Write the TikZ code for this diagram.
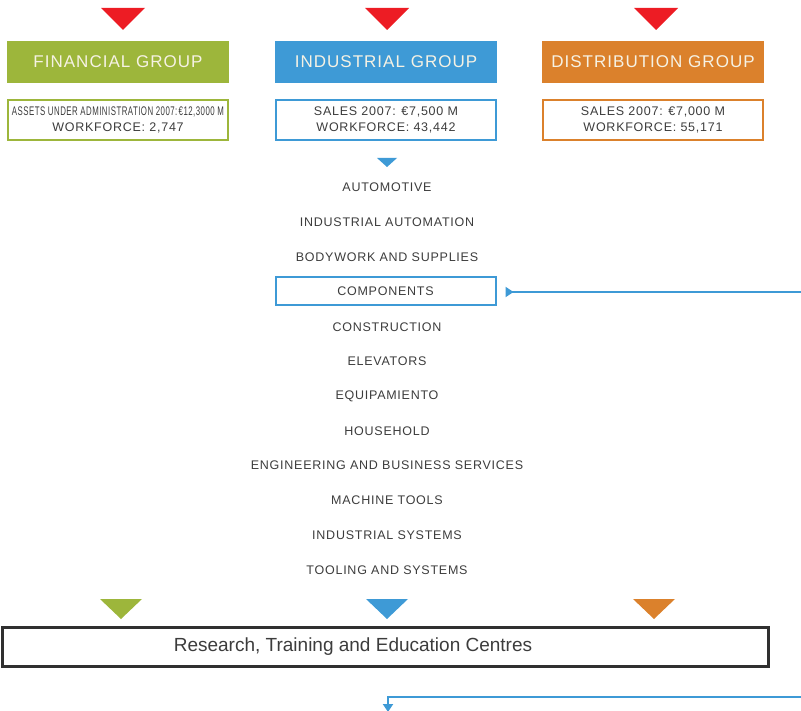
\documentclass[tikz,border=0pt]{standalone}
\usepackage{fontspec}
\usepackage{graphicx}
\setmainfont{Liberation Sans}
\newfontfamily\headfont[LetterSpace=6]{Liberation Sans}
\newfontfamily\listfont[LetterSpace=6]{Liberation Sans}
\usetikzlibrary{arrows.meta}

\definecolor{markred}{HTML}{ED1C24}
\definecolor{fingreen}{HTML}{9DB63B}
\definecolor{indblue}{HTML}{3E9AD6}
\definecolor{distorange}{HTML}{DB812C}
\definecolor{txtgray}{HTML}{3C3C3C}
\definecolor{headtxt}{HTML}{F6F2E4}

% triangle marker: centre x, top y, half width, height, colour
\newcommand{\marktri}[5]{\fill[#5] (#1-#3,#2) -- (#1+#3,#2) -- (#1,#2+#4) -- cycle;}

\begin{document}
\begin{tikzpicture}[x=1pt, y=-1pt,
    header/.style={rectangle, minimum width=222pt, minimum height=42pt, inner sep=0pt,
        text=headtxt, font=\headfont\fontsize{17}{20}\selectfont},
    infobox/.style={rectangle, draw=#1, line width=2pt, minimum width=220pt, minimum height=40pt,
        inner sep=0pt, align=center, text=txtgray, font=\listfont\fontsize{12.5}{16}\selectfont},
    item/.style={text=txtgray, inner sep=0pt, font=\listfont\fontsize{12.5}{14}\selectfont},
    link/.style={indblue, line width=2pt}]

    \useasboundingbox (0,0) rectangle (801,711);

    % Draw the markers above the groups
    \marktri{123}{8}{22}{22}{markred}
    \marktri{387}{8}{22}{22}{markred}
    \marktri{656}{8}{22}{22}{markred}

    % Draw the group headers
    \node[header, fill=fingreen] (fin) at (118,62) {FINANCIAL GROUP};
    \node[header, fill=indblue] (ind) at (386,62) {INDUSTRIAL GROUP};
    \node[header, fill=distorange] (dist) at (653,62) {DISTRIBUTION GROUP};

    % Draw the figures boxes
    \node[infobox=fingreen] (finfig) at (118,120)
        {\resizebox{212pt}{\height}{ASSETS UNDER ADMINISTRATION 2007:\,€12,3000 M}\\WORKFORCE: 2,747};
    \node[infobox=indblue] (indfig) at (386,120) {SALES 2007: €7,500 M\\WORKFORCE: 43,442};
    \node[infobox=distorange] (distfig) at (653,120) {SALES 2007: €7,000 M\\WORKFORCE: 55,171};

    % Draw the divisions of the industrial group
    \marktri{387}{158}{10}{9}{indblue}
    \node[item] (auto) at (387,187) {AUTOMOTIVE};
    \node[item] (automation) at (387,222) {INDUSTRIAL AUTOMATION};
    \node[item] (bodywork) at (387,257) {BODYWORK AND SUPPLIES};
    \node[item, draw=indblue, line width=2pt, minimum width=220pt, minimum height=28pt] (comp) at (385.5,291) {COMPONENTS};
    \node[item] (constr) at (387,327) {CONSTRUCTION};
    \node[item] (elev) at (387,361) {ELEVATORS};
    \node[item] (equip) at (387,396) {EQUIPAMIENTO};
    \node[item] (house) at (387,431) {HOUSEHOLD};
    \node[item] (eng) at (387,465) {ENGINEERING AND BUSINESS SERVICES};
    \node[item] (machine) at (387,500) {MACHINE TOOLS};
    \node[item] (indsys) at (387,535) {INDUSTRIAL SYSTEMS};
    \node[item] (tooling) at (387,570) {TOOLING AND SYSTEMS};

    % Draw the markers above the centres box
    \marktri{121}{599}{21}{20}{fingreen}
    \marktri{387}{599}{21}{20}{indblue}
    \marktri{654}{599}{21}{20}{distorange}

    % Draw the centres box
    \draw[line width=2.5pt, draw=txtgray!80!black] (2.5,627.5) rectangle (768.5,666.5);
    \node[text=txtgray, font=\fontsize{19}{21}\selectfont] (centres) at (353,647) {Research, Training and Education Centres};

    % Draw the connectors
    \coordinate (compout) at (801,292);
    \coordinate (centin) at (801,697);
    \coordinate (centend) at (388,712);
    \draw[link, {Triangle[reversed, length=8pt, width=10pt]}-, shorten <=9pt] (comp.east |- compout) -- (compout);
    \draw[link, -{Triangle[length=8pt, width=10pt]}] (centin) -| (centend);

\end{tikzpicture}
\end{document}
